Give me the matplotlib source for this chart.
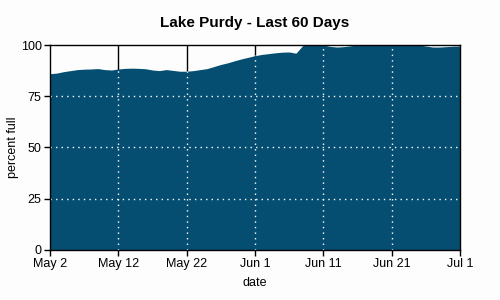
import numpy as np
import matplotlib
matplotlib.use("Agg")
import matplotlib.pyplot as plt

plt.rcParams['font.family'] = ['Liberation Sans', 'DejaVu Sans']

# percent full, one value per day, May 2 .. Jul 1
pct = [86.0, 86.3, 87.0, 87.5, 88.0, 88.2, 88.3, 88.5, 88.0, 87.8,
       88.3, 88.6, 88.7, 88.6, 88.4, 87.8, 87.5, 88.0, 87.6, 87.2,
       87.2, 87.5, 88.0, 88.5, 89.5, 90.5, 91.3, 92.3, 93.2, 94.0,
       94.8, 95.4, 95.8, 96.2, 96.5, 96.6, 96.0, 99.8, 100.0, 100.0,
       100.0, 99.3, 99.0, 99.2, 99.6, 100.0, 100.0, 100.0, 100.0, 100.0,
       100.0, 100.0, 100.0, 100.0, 100.0, 99.5, 99.0, 99.0, 99.2, 99.4,
       99.5]
days = np.arange(len(pct))
tick_days = [0, 10, 20, 30, 40, 50, 60]
tick_labels = ['May 2', 'May 12', 'May 22', 'Jun 1', 'Jun 11', 'Jun 21', 'Jul 1']
y_ticks = [0, 25, 50, 75, 100]

bg = '#fcfdfc'
fill_col = '#054e71'

fig = plt.figure(figsize=(5, 3), dpi=100, facecolor=bg)
ax = fig.add_axes([0.1, 0.1667, 0.82, 0.6833])
ax.set_facecolor(bg)

ax.set_xlim(0, 60)
ax.set_ylim(0, 100)

# black grid behind the fill
for d in tick_days[1:-1]:
    ax.axvline(d, color='black', lw=1, zorder=0)
for v in y_ticks[1:-1]:
    ax.axhline(v, color='black', lw=1, zorder=0)

poly = ax.fill_between(days, 0, pct, color=fill_col, lw=0, zorder=1)

# white dotted grid on top, clipped to the filled area
clip = poly.get_paths()[0]
for d in tick_days[1:-1]:
    ln = ax.axvline(d, color='white', lw=1, ls=(0, (1, 3)), zorder=2)
    ln.set_clip_path(clip, ax.transData)
for v in y_ticks[1:-1]:
    ln = ax.axhline(v, color='white', lw=1, ls=(0, (1, 3)), zorder=2)
    ln.set_clip_path(clip, ax.transData)

ax.set_xticks(tick_days)
ax.set_xticklabels(tick_labels)
ax.set_yticks(y_ticks)
ax.tick_params(direction='out', length=4, width=1, labelsize=9, pad=2, colors='black')
for s in ax.spines.values():
    s.set_linewidth(1)
    s.set_zorder(3)

ax.set_xlabel('date', fontsize=9, labelpad=5)
ax.set_ylabel('percent full', fontsize=9, labelpad=1)
ax.set_title('Lake Purdy - Last 60 Days', fontsize=11, fontweight='bold', pad=13)

fig.savefig('out.png', dpi=100, facecolor=bg)
